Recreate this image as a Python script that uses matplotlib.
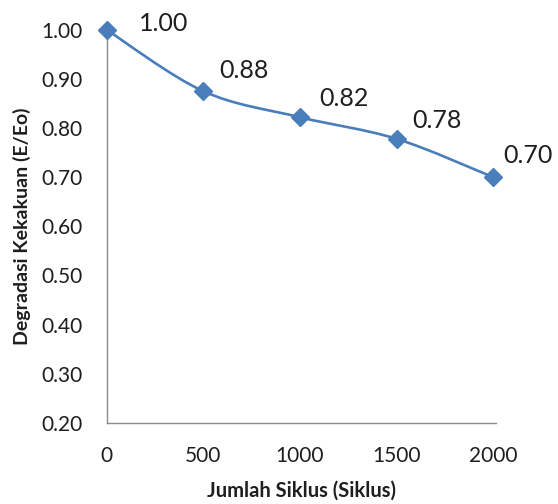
import matplotlib
matplotlib.use('Agg')
import matplotlib.pyplot as plt
from matplotlib.path import Path
from matplotlib.patches import PathPatch

# Data
siklus = [0, 500, 1000, 1500, 2000]
degradasi = [1.00, 0.875, 0.822, 0.778, 0.70]
y_ticks = [0.20, 0.30, 0.40, 0.50, 0.60, 0.70, 0.80, 0.90, 1.00]

# where each data label sits relative to its point (pixels)
label_offsets = [(32, 6), (16, 21), (19, 19), (16, 18), (10, 22)]

plt.rcParams['font.family'] = ['Lato', 'DejaVu Sans']

blue = '#4a7ebb'
axis_grey = '#8c8c8c'
text_col = '#1e1e1e'

fig = plt.figure(figsize=(5.58, 5.04), dpi=100)
ax = fig.add_axes([0.191, 0.161, 0.698, 0.780])

# smoothed line (Catmull-Rom style bezier, like Excel's smoothed line)
verts = [(siklus[0], degradasi[0])]
codes = [Path.MOVETO]
n = len(siklus)
t = 1 / 6
for i in range(n - 1):
    p0 = (siklus[max(i - 1, 0)], degradasi[max(i - 1, 0)])
    p1 = (siklus[i], degradasi[i])
    p2 = (siklus[i + 1], degradasi[i + 1])
    p3 = (siklus[min(i + 2, n - 1)], degradasi[min(i + 2, n - 1)])
    c1 = (p1[0] + (p2[0] - p0[0]) * t, p1[1] + (p2[1] - p0[1]) * t)
    c2 = (p2[0] - (p3[0] - p1[0]) * t, p2[1] - (p3[1] - p1[1]) * t)
    verts += [c1, c2, p2]
    codes += [Path.CURVE4] * 3
ax.add_patch(PathPatch(Path(verts, codes), fill=False, edgecolor=blue,
                       linewidth=1.9, clip_on=False))

ax.plot(siklus, degradasi, linestyle='none', marker='D', markersize=9.5,
        color=blue, clip_on=False, zorder=3)

for x, y, off in zip(siklus, degradasi, label_offsets):
    ax.annotate(f'{y:.2f}', (x, y), xytext=off, textcoords='offset pixels',
                fontsize=18, color=text_col, va='center', ha='left')

ax.set_xlim(0, 2015)
ax.set_ylim(0.20, 1.00)
ax.set_xticks(siklus)
ax.set_xticklabels([str(s) for s in siklus])
ax.set_yticks(y_ticks)
ax.set_yticklabels([f'{v:.2f}' for v in y_ticks])
ax.tick_params(axis='both', length=0, labelsize=15, colors=text_col)
ax.tick_params(axis='x', pad=17)
ax.tick_params(axis='y', pad=17)

for side in ['top', 'right']:
    ax.spines[side].set_visible(False)
for side in ['left', 'bottom']:
    ax.spines[side].set_color(axis_grey)
    ax.spines[side].set_linewidth(1.0)

ax.set_xlabel('Jumlah Siklus (Siklus)', fontsize=14.5, fontweight='bold',
              labelpad=10, color=text_col)
ax.set_ylabel('Degradasi Kekakuan (E/Eo)', fontsize=14, fontweight='bold',
              labelpad=8, color=text_col)

fig.savefig('out.png', dpi=100, facecolor='white')
